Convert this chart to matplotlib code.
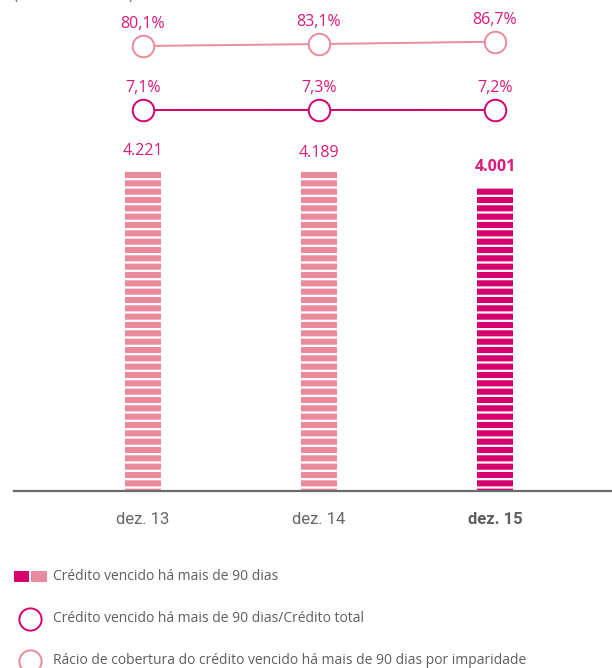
import matplotlib
matplotlib.use("Agg")
import matplotlib.pyplot as plt
from matplotlib.patches import Rectangle
from matplotlib.lines import Line2D

# Data (millions of euros and ratios)
periods = ["dez. 13", "dez. 14", "dez. 15"]
overdue_credit = [4221, 4189, 4001]
overdue_labels = ["4.221", "4.189", "4.001"]
overdue_ratio = [7.1, 7.3, 7.2]
ratio_labels = ["7,1%", "7,3%", "7,2%"]
coverage_ratio = [80.1, 83.1, 86.7]
coverage_labels = ["80,1%", "83,1%", "86,7%"]
legend_labels = [
    "Crédito vencido há mais de 90 dias",
    "Crédito vencido há mais de 90 dias/Crédito total",
    "Rácio de cobertura do crédito vencido há mais de 90 dias por imparidade",
]

DARK = "#D5006D"
LIGHT = "#E98B9C"
LABEL = "#DC1A78"
GREY = "#5E5E5E"
TICK_GREY = "#666666"

plt.rcParams["hatch.linewidth"] = 1.6

W, H, DPI = 612, 668, 100
fig = plt.figure(figsize=(W / DPI, H / DPI), dpi=DPI)

base_px = 491
left_px = 14
ax = fig.add_axes([left_px / W, (H - base_px) / H, (W - left_px) / W, base_px / H])
x = list(range(len(periods)))
ax.set_xlim(-0.733, 2.665)
ax.set_ylim(0, 6452)

bar_colors = [LIGHT, LIGHT, DARK]
bars = ax.bar(x, overdue_credit, width=0.2, color=bar_colors, edgecolor="white",
              linewidth=0, hatch="--", zorder=2)

for i, (v, lab) in enumerate(zip(overdue_credit, overdue_labels)):
    ax.annotate(lab, (x[i], v), xytext=(0, 8), textcoords="offset points",
                ha="center", va="bottom", color=LABEL, fontsize=11.5,
                family="Open Sans", fontweight="bold" if i == 2 else "normal")

for s in ["left", "right", "top"]:
    ax.spines[s].set_visible(False)
ax.spines["bottom"].set_color("#6A6A6A")
ax.spines["bottom"].set_linewidth(1.6)
ax.set_yticks([])
ax.set_xticks(x)
ax.set_xticklabels(periods, family="Roboto", fontsize=12, color=TICK_GREY)
for i, t in enumerate(ax.get_xticklabels()):
    t.set_fontweight("bold" if i == 2 else "normal")
    if i == 2:
        t.set_color(GREY)
ax.tick_params(axis="x", length=0, pad=15)

# Overdue / total credit line (nearly flat scale)
ax2 = ax.twinx()
R = 1000.0
frac = (base_px - 110) / base_px
ax2.set_ylim(7.2 - frac * R, 7.2 + (1 - frac) * R)
ax2.plot(x, overdue_ratio, color=DARK, lw=1.4, marker="o", ms=15.5,
         mfc="white", mec=DARK, mew=1.4, zorder=3)
for i, (v, lab) in enumerate(zip(overdue_ratio, ratio_labels)):
    ax2.annotate(lab, (x[i], v), xytext=(0, 10), textcoords="offset points",
                 ha="center", va="bottom", color=LABEL, fontsize=11.5, family="Open Sans")

# Coverage ratio line
ax3 = ax.twinx()
R3 = 755.0
frac3 = (base_px - 46) / base_px
lo = 80.1 - frac3 * R3
ax3.set_ylim(lo, lo + R3)
ax3.plot(x, coverage_ratio, color=LIGHT, lw=1.4, marker="o", ms=15.5,
         mfc="white", mec=LIGHT, mew=1.4, zorder=3)
for i, (v, lab) in enumerate(zip(coverage_ratio, coverage_labels)):
    ax3.annotate(lab, (x[i], v), xytext=(0, 10), textcoords="offset points",
                 ha="center", va="bottom", color=LABEL, fontsize=11.5, family="Open Sans")

for a in (ax2, ax3):
    a.set_yticks([])
    for s in a.spines.values():
        s.set_visible(False)

# Unit caption (partially above the top edge)
fig.text(14 / W, 1.0 + 5 / H, "(Milhões de euros)", ha="left", va="center",
         color=GREY, fontsize=10, family="Open Sans")

# Legend
def fy(py):
    return (H - py) / H

fig.add_artist(Rectangle((14 / W, fy(582)), 15 / W, 11 / H, transform=fig.transFigure,
                         color=DARK, lw=0))
fig.add_artist(Rectangle((31 / W, fy(582)), 16 / W, 11 / H, transform=fig.transFigure,
                         color=LIGHT, lw=0))
fig.add_artist(Line2D([30 / W], [fy(619)], transform=fig.transFigure, marker="o", ms=16,
                      mfc="white", mec=DARK, mew=1.4, ls="none"))
fig.add_artist(Line2D([30 / W], [fy(661)], transform=fig.transFigure, marker="o", ms=16,
                      mfc="white", mec=LIGHT, mew=1.4, ls="none"))
for py, lab in zip([577, 619, 660], legend_labels):
    fig.text(53 / W, fy(py), lab, ha="left", va="center", color=GREY, fontsize=10,
             family="Open Sans")

fig.savefig("out.png", dpi=DPI)
